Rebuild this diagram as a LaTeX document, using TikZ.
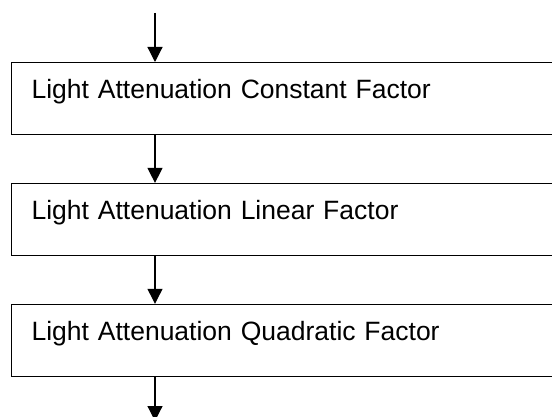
\documentclass[tikz,border=0pt]{standalone}
\usepackage{fontspec}
\setmainfont{Liberation Sans}
\usetikzlibrary{arrows.meta, positioning}

\begin{document}
\begin{tikzpicture}[node distance=47.7pt, line width=1.2pt, >={Triangle[width=15pt,length=15pt]}]

\tikzstyle{factor} = [rectangle, draw, anchor=north west, align=left, text width=510pt, inner xsep=20pt, inner ysep=0pt, text height=36pt, text depth=36pt, font=\fontsize{26.5}{30}\selectfont]

\useasboundingbox (0,0) rectangle (552pt,-417pt);

% Nodes
\coordinate (start) at (155pt,-13pt);
\node[factor] (const) at (11pt,-62pt) {Light Attenuation Constant Factor};
\node[factor, below=of const.south west, anchor=north west] (linear) {Light Attenuation Linear Factor};
\node[factor, below=of linear.south west, anchor=north west] (quad) {Light Attenuation Quadratic Factor};
\coordinate (stop) at (155pt,-421pt);

% Connections
\draw[->] (start) -- (const.north -| start);
\draw[->] (const.south -| start) -- (linear.north -| start);
\draw[->] (linear.south -| start) -- (quad.north -| start);
\draw[->] (quad.south -| start) -- (stop);

\end{tikzpicture}
\end{document}
